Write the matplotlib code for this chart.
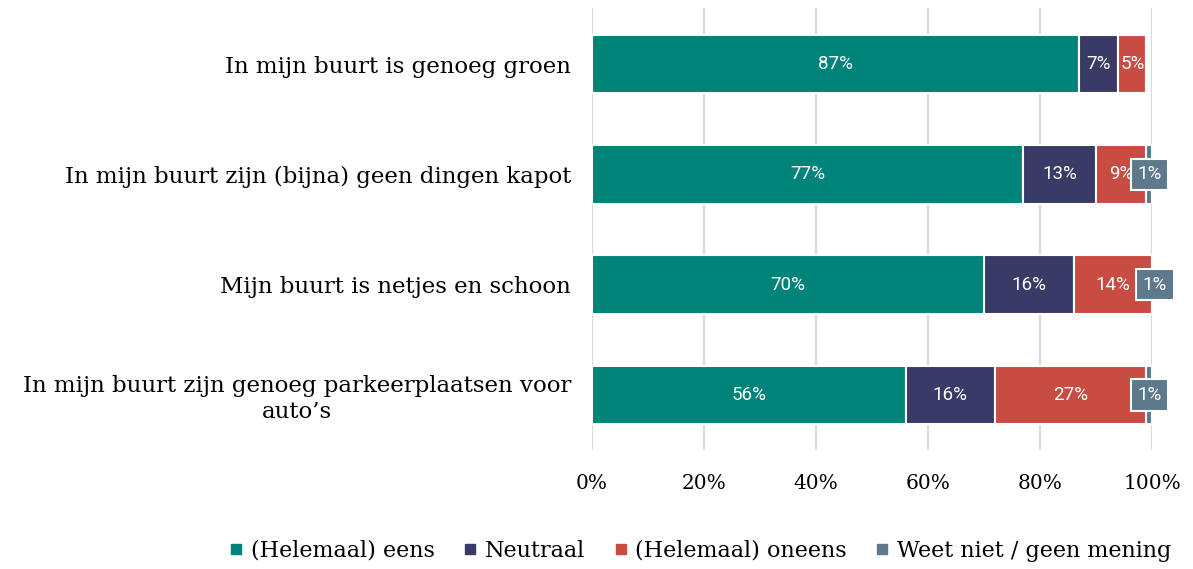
import numpy as np
import matplotlib.pyplot as plt
from matplotlib.lines import Line2D

categories = [
    "In mijn buurt is genoeg groen",
    "In mijn buurt zijn (bijna) geen dingen kapot",
    "Mijn buurt is netjes en schoon",
    "In mijn buurt zijn genoeg parkeerplaatsen voor\nauto\u2019s",
]
series = ["(Helemaal) eens", "Neutraal", "(Helemaal) oneens", "Weet niet / geen mening"]
eens = [87, 77, 70, 56]
neutraal = [7, 13, 16, 16]
oneens = [5, 9, 14, 27]
weet_niet = [0, 1, 1, 1]
colors = ["#008378", "#373b66", "#c94c43", "#5e798c"]
xticks = [0, 20, 40, 60, 80, 100]

serif = "DejaVu Serif"

fig = plt.figure(figsize=(11.93, 5.69), dpi=100)
ax = fig.add_axes([0.496, 0.209, 0.4697, 0.777])

y = np.arange(len(categories))
left = np.zeros(len(categories))
for i, vals in enumerate([eens, neutraal, oneens, weet_niet]):
    vals = np.array(vals, dtype=float)
    ax.barh(y, vals, left=left, height=0.53, color=colors[i],
            edgecolor="white", linewidth=1.5, zorder=3)
    for j, v in enumerate(vals):
        if v <= 0:
            continue
        cx = left[j] + v / 2
        if i == 3:
            ax.text(cx, y[j], f"{v:.0f}%", ha="center", va="center", color="white",
                    fontsize=13.5, family="Roboto", zorder=5,
                    bbox=dict(boxstyle="square,pad=0.35", facecolor=colors[i],
                              edgecolor="white", linewidth=1.5))
        else:
            ax.text(cx, y[j], f"{v:.0f}%", ha="center", va="center", color="white",
                    fontsize=13.5, family="Roboto", zorder=4)
    left += vals

ax.set_xlim(0, 100)
ax.set_ylim(3.5, -0.51)
ax.set_xticks(xticks)
ax.set_xticklabels([f"{t}%" for t in xticks], family=serif, fontsize=14.5)
ax.set_yticks(y)
ax.set_yticklabels(categories, family=serif, fontsize=16.5, multialignment="center")
ax.tick_params(axis="both", length=0)
ax.tick_params(axis="x", pad=17)
ax.tick_params(axis="y", pad=15)
for s in ax.spines.values():
    s.set_visible(False)
ax.grid(axis="x", color="#d9d9d9", linewidth=1.5, zorder=0)
ax.set_axisbelow(True)

handles = [Line2D([], [], marker="s", linestyle="none", markersize=7.5,
                  markerfacecolor=c, markeredgecolor=c) for c in colors]
fig.legend(handles, series, loc="center", bbox_to_anchor=(0.587, 0.032), ncol=4,
           frameon=False, prop={"family": serif, "size": 16},
           handlelength=0.6, handletextpad=0.35, columnspacing=1.3)

fig.savefig("out.png", dpi=100)
